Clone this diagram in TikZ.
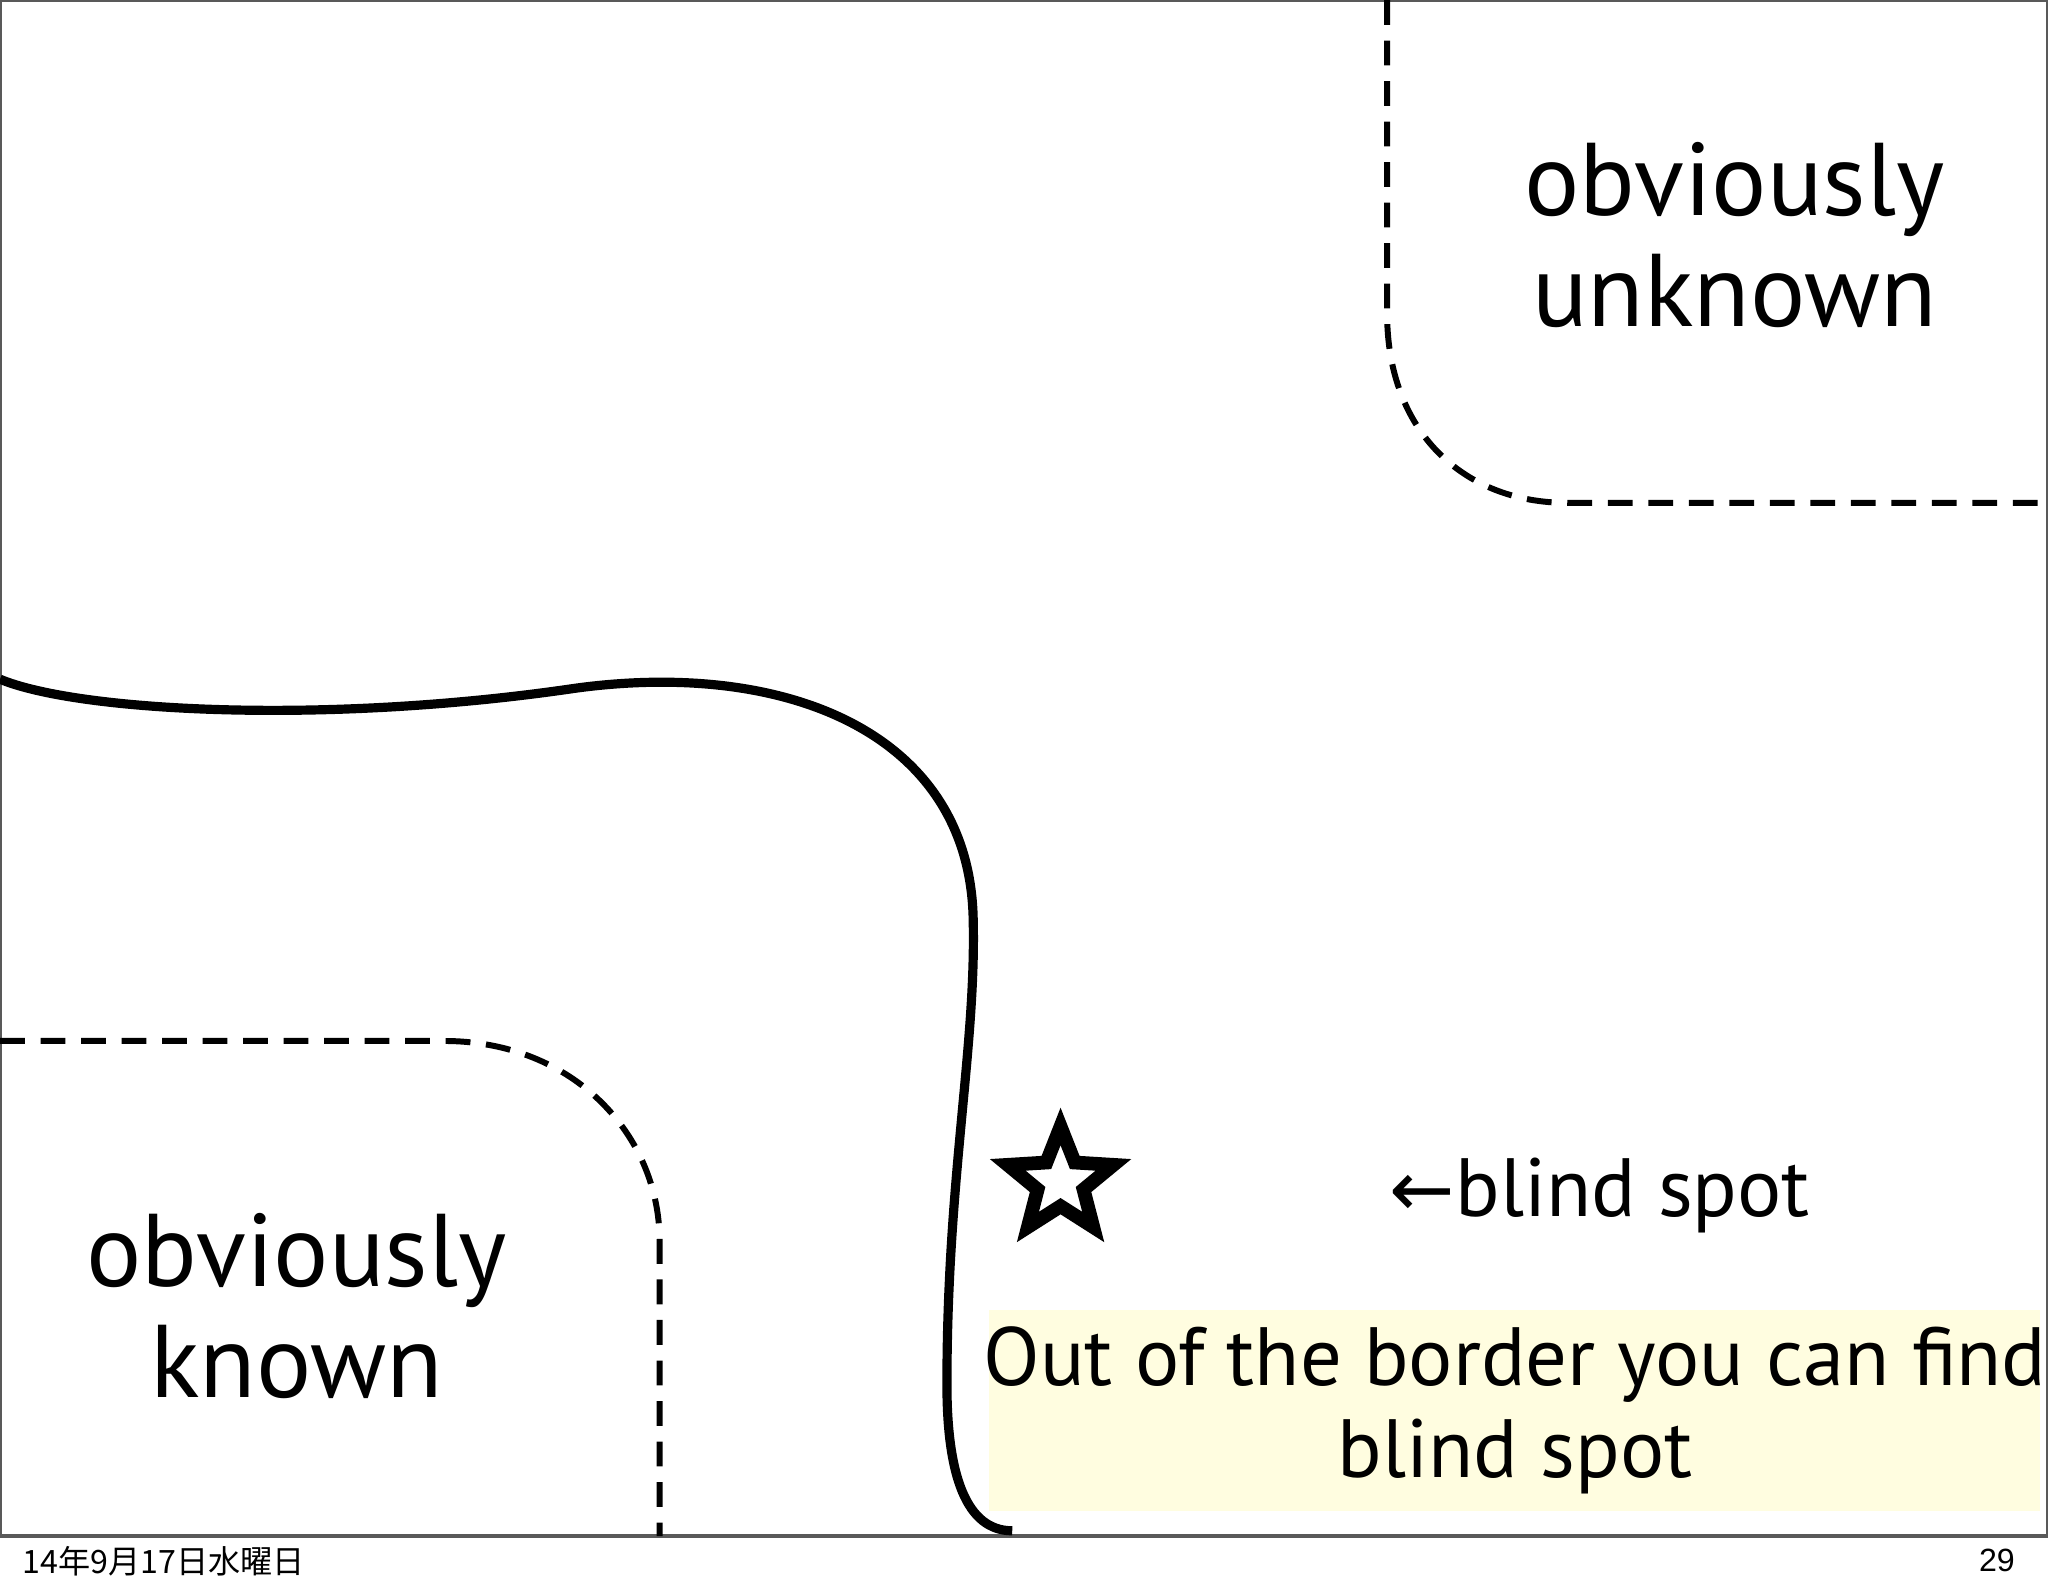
\documentclass[tikz,border=0pt]{standalone}
\usepackage{fontspec}
\setmainfont{PT Sans}
\newfontfamily\cjk{Noto Sans CJK JP}
\usetikzlibrary{shapes.geometric}
\begin{document}
\begin{tikzpicture}[x=0.01cm,y=-0.01cm,
  dsh/.style={line width=1.3pt,dash pattern=on 0.19cm off 0.12cm},
  big/.style={align=center,inner sep=0pt}]
\useasboundingbox (0,0) rectangle (1568,1215);
\fill[white] (0,0) rectangle (1568,1215);
\draw[line width=0.8pt,gray!70!black] (0,0) rectangle (1568,1176);
% dashed regions
\draw[dsh] (1062,0) -- (1062,240) .. controls (1062,330) and (1120,385) .. (1200,385) -- (1568,385);
\draw[dsh] (0,797) -- (340,797) .. controls (440,797) and (505,870) .. (505,950) -- (505,1176);
% solid border
\draw[line width=2pt] (0,520) .. controls (60,545) and (250,555) .. (440,527)
  .. controls (600,505) and (740,560) .. (745,700)
  .. controls (748,800) and (725,900) .. (725,1060)
  .. controls (725,1130) and (740,1172) .. (775,1172);
\node[star,star points=5,star point ratio=2.3,draw,line width=3pt,minimum size=0.85cm,inner sep=0pt] (st) at (812,905) {};
\node[big,font=\fontsize{18}{22}\selectfont] (bs) at (1225,915) {{\fontspec{DejaVu Sans}\fontsize{17}{18}\selectfont ←}blind spot};
\fill[yellow!12] (757,1003) rectangle (1562,1157);
\node[big,font=\fontsize{18}{20}\selectfont] (box) at (1160,1080) {Out of the border you can find\\blind spot};
\node[big,font=\fontsize{22.5}{24}\selectfont] (ou) at (1328,180) {obviously\\unknown};
\node[big,font=\fontsize{22.5}{24}\selectfont] (ok) at (227,1000) {obviously\\known};
\node[anchor=west,font=\cjk\fontsize{7}{8}\selectfont] (dt) at (5,1195) {14年9月17日水曜日};
\node[anchor=east,font=\fontspec{Liberation Sans}\fontsize{7}{8}\selectfont] (pg) at (1555,1195) {29};
\end{tikzpicture}
\end{document}
